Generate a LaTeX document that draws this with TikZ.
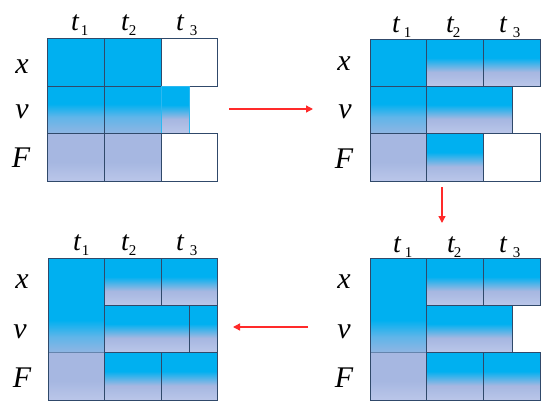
\documentclass[tikz,border=0pt]{standalone}
\usepackage{fontspec}
\setmainfont{Liberation Serif}
\usetikzlibrary{arrows.meta}
\definecolor{cy}{HTML}{00B0F0}
\definecolor{lav}{HTML}{A6B7E1}
\definecolor{lavlt}{HTML}{BAC6E9}
\definecolor{midb}{HTML}{8EB5E3}
\definecolor{mixb}{HTML}{60B5E9}
\definecolor{edge}{HTML}{30496A}
\definecolor{cyedge}{HTML}{2CB8F0}
\definecolor{aro}{HTML}{FF2A2A}
\pgfdeclareverticalshading{halfgrad}{100bp}{color(0bp)=(lavlt); color(25bp)=(lavlt); color(40bp)=(lav); color(55bp)=(cy); color(100bp)=(cy)}
\pgfdeclareverticalshading{vgrad}{100bp}{color(0bp)=(midb); color(25bp)=(midb); color(42bp)=(mixb); color(56bp)=(cy); color(100bp)=(cy)}
\pgfdeclareverticalshading{lavgrad}{100bp}{color(0bp)=(lavlt); color(25bp)=(lavlt); color(45bp)=(lav); color(100bp)=(lav)}
\pgfdeclareverticalshading{colstrip}{100bp}{color(0bp)=(midb); color(25bp)=(midb); color(33bp)=(mixb); color(42bp)=(cy); color(100bp)=(cy)}
\newcommand\tsub[1]{\raisebox{-5pt}{\upshape\fontsize{15}{15}\selectfont #1}}
\begin{document}
\begin{tikzpicture}[x=1pt,y=-1pt,
  cell/.style={draw=edge,line width=0.8pt},
  solidc/.style={cell,fill=cy},
  white/.style={cell,fill=white},
  half/.style={cell,shade,shading=halfgrad},
  vrow/.style={cell,shade,shading=vgrad},
  frow/.style={cell,shade,shading=lavgrad},
  strip/.style={shade,shading=colstrip},
  lab/.style={inner sep=0pt,anchor=base,font=\fontsize{30}{30}\selectfont\itshape},
  tl/.style={inner sep=0pt,anchor=base west,font=\fontsize{28}{28}\selectfont\itshape},
  arr/.style={draw=aro,line width=1.3pt,-{Triangle[length=7pt,width=7pt]}}]
\useasboundingbox (0,0) rectangle (550,410);
% ---------- grid 1 ----------
\path[solidc] (47,38) rectangle (104,86);
\path[solidc] (104,38) rectangle (161,86);
\path[white] (161,38) rectangle (217,86);
\path[vrow] (47,86) rectangle (104,133);
\path[vrow] (104,86) rectangle (161,133);
\path[shade,shading=halfgrad,draw=cyedge,line width=0.8pt] (161,86) rectangle (189,133);
\path[frow] (47,133) rectangle (104,181);
\path[frow] (104,133) rectangle (161,181);
\path[white] (161,133) rectangle (217,181);
% ---------- grid 2 ----------
\path[solidc] (370,39) rectangle (426,86);
\path[half] (426,39) rectangle (483,86);
\path[half] (483,39) rectangle (540,86);
\path[vrow] (370,86) rectangle (426,133);
\path[half] (426,86) rectangle (512,133);
\path[frow] (370,133) rectangle (426,181);
\path[half] (426,133) rectangle (483,181);
\path[white] (483,133) rectangle (540,181);
% ---------- grid 3 ----------
\path[strip] (48,258) rectangle (104,352);
\path[frow,draw=none] (48,352) rectangle (104,400);
\draw[draw=edge!45!midb,line width=0.6pt] (48,352) -- (104,352);
\path[cell] (48,258) rectangle (104,400);
\path[half] (104,258) rectangle (161,305);
\path[half] (161,258) rectangle (217,305);
\path[half] (104,305) rectangle (189,352);
\path[half] (189,305) rectangle (217,352);
\path[half] (104,352) rectangle (161,400);
\path[half] (161,352) rectangle (217,400);
% ---------- grid 4 ----------
\path[strip] (370,258) rectangle (426,352);
\path[frow,draw=none] (370,352) rectangle (426,400);
\draw[draw=edge!45!midb,line width=0.6pt] (370,352) -- (426,352);
\path[cell] (370,258) rectangle (426,400);
\path[half] (426,258) rectangle (483,305);
\path[half] (483,258) rectangle (540,305);
\path[half] (426,305) rectangle (512,352);
\path[half] (426,352) rectangle (483,400);
\path[half] (483,352) rectangle (540,400);
% ---------- row labels ----------
\node[lab] (g1x) at (22,73) {x};
\node[lab] (g1v) at (22,118) {v};
\node[lab] (g1F) at (21,167) {F};
\node[lab] (g2x) at (344,70) {x};
\node[lab] (g2v) at (345,118) {v};
\node[lab] (g2F) at (344,168) {F};
\node[lab] (g3x) at (22,288) {x};
\node[lab] (g3v) at (20,338) {v};
\node[lab] (g3F) at (22,387) {F};
\node[lab] (g4x) at (344,288) {x};
\node[lab] (g4v) at (344,338) {v};
\node[lab] (g4F) at (344,387) {F};
% ---------- column labels ----------
\node[tl] (g1t1) at (71,30) {t\hspace{2pt}\tsub{1}};
\node[tl] (g1t2) at (121,30) {t\tsub{2}};
\node[tl] (g1t3) at (176,30) {t\hspace{6pt}\tsub{3}};
\node[tl] (g2t1) at (392,32) {t\hspace{4pt}\tsub{1}};
\node[tl] (g2t2) at (446,32) {t\hspace{-1pt}\tsub{2}};
\node[tl] (g2t3) at (499,32) {t\hspace{6pt}\tsub{3}};
\node[tl] (g3t1) at (73,250) {t\hspace{1pt}\tsub{1}};
\node[tl] (g3t2) at (121,250) {t\tsub{2}};
\node[tl] (g3t3) at (176,250) {t\hspace{6pt}\tsub{3}};
\node[tl] (g4t1) at (393,252) {t\hspace{4pt}\tsub{1}};
\node[tl] (g4t2) at (447,252) {t\hspace{-1pt}\tsub{2}};
\node[tl] (g4t3) at (499,252) {t\hspace{6pt}\tsub{3}};
% ---------- arrows ----------
\coordinate (a1s) at (229,109);
\coordinate (a1e) at (313,109);
\coordinate (a2s) at (442,187);
\coordinate (a2e) at (442,223);
\coordinate (a3s) at (308,327);
\coordinate (a3e) at (233,327);
\draw[arr] (a1s) -- (a1e);
\draw[arr] (a2s) -- (a2e);
\draw[arr] (a3s) -- (a3e);
\end{tikzpicture}
\end{document}
